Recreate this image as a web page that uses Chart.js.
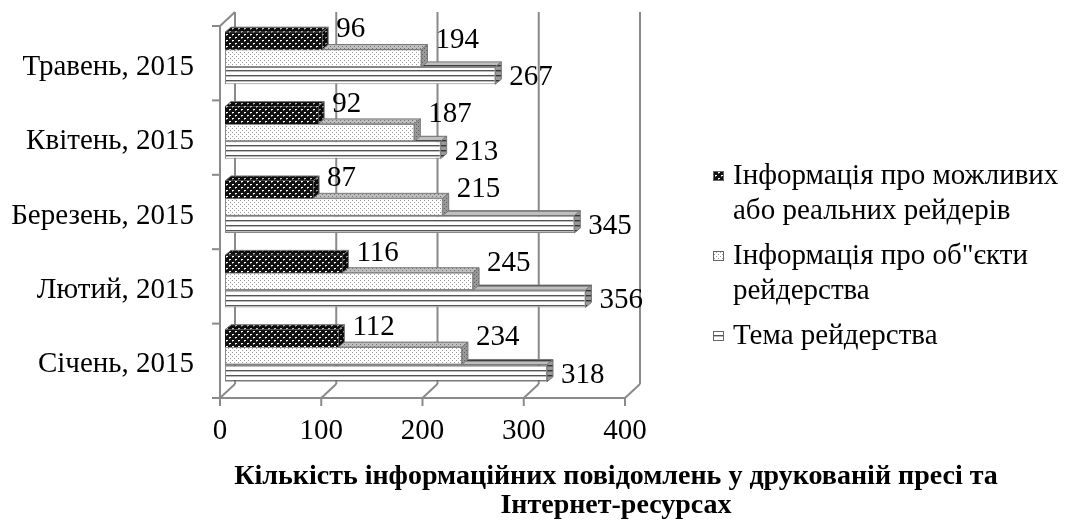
<!DOCTYPE html>
<html><head><meta charset="utf-8">
<script src="https://cdn.jsdelivr.net/npm/chart.js@4.4.1/dist/chart.umd.min.js"></script>
<style>html,body{margin:0;padding:0;background:#fff;}#wrap{width:1067px;height:524px;position:relative;}</style>
</head><body><div id="wrap"><canvas id="c" width="1067" height="524" style="width:1067px;height:524px"></canvas></div>
<script>
const categories = ['Травень, 2015', 'Квітень, 2015', 'Березень, 2015', 'Лютий, 2015', 'Січень, 2015'];
const seriesNames = [['Інформація про можливих', 'або реальних рейдерів'], ['Інформація про об"єкти', 'рейдерства'], ['Тема рейдерства']];
const raidersInfo = [96, 92, 87, 116, 112];
const objectsInfo = [194, 187, 215, 245, 234];
const raidingTopic = [267, 213, 345, 356, 318];
const xTicks = [0, 100, 200, 300, 400];
const titleLines = ['Кількість інформаційних повідомлень у друкованій пресі та', 'Інтернет-ресурсах'];

const FONT = '"Liberation Serif", "Times New Roman", serif';
const FS = 29;
const DX = 6, DY = 5;          // bar depth
const FRONT = [-5, 5], BACK = [10, -9];

function makePattern(kind) {
  const c = document.createElement('canvas');
  const g = c.getContext('2d');
  if (kind === 'dark') {
    c.width = 6; c.height = 6;
    g.fillStyle = '#111'; g.fillRect(0, 0, 6, 6);
    g.fillStyle = '#fff';
    g.fillRect(1, 1, 2, 1); g.fillRect(4, 4, 2, 1);
    g.fillStyle = '#888';
    g.fillRect(1, 2, 1, 1); g.fillRect(4, 5, 1, 1);
  } else if (kind === 'dots') {
    c.width = 4; c.height = 4;
    g.fillStyle = '#fff'; g.fillRect(0, 0, 4, 4);
    g.fillStyle = '#9a9a9a';
    g.fillRect(0, 0, 1, 1); g.fillRect(2, 2, 1, 1);
  } else {
    c.width = 4; c.height = 5;
    g.fillStyle = '#fff'; g.fillRect(0, 0, 4, 5);
    g.fillStyle = '#555'; g.fillRect(0, 0, 4, 1);
    g.fillStyle = '#bbb'; g.fillRect(0, 1, 4, 1);
  }
  return g.createPattern(c, 'repeat');
}

const ctx0 = document.getElementById('c').getContext('2d');
const pats = [makePattern('dark'), makePattern('dots'), makePattern('lines')];

const framePlugin = {
  id: 'frame3d',
  beforeDatasetsDraw(chart) {
    const { ctx, chartArea: a, scales: { x } } = chart;
    ctx.save();
    ctx.strokeStyle = '#8a8a8a';
    ctx.lineWidth = 2;
    const top = a.top, bot = a.bottom;
    xTicks.forEach(v => {
      const px = x.getPixelForValue(v);
      ctx.beginPath();
      ctx.moveTo(px + BACK[0], top + BACK[1]);
      ctx.lineTo(px + BACK[0], bot + BACK[1]);
      ctx.stroke();
      ctx.beginPath();
      ctx.moveTo(px + FRONT[0], bot + FRONT[1]);
      ctx.lineTo(px + BACK[0], bot + BACK[1]);
      ctx.stroke();
      ctx.beginPath();
      ctx.moveTo(px + FRONT[0], bot + FRONT[1]);
      ctx.lineTo(px + FRONT[0], bot + FRONT[1] + 8);
      ctx.stroke();
    });
    const x0 = x.getPixelForValue(0), x4 = x.getPixelForValue(400);
    ctx.beginPath();
    ctx.moveTo(x0 + FRONT[0] - 8, bot + FRONT[1]);
    ctx.lineTo(x4 + FRONT[0], bot + FRONT[1]);
    ctx.stroke();
    ctx.beginPath();
    ctx.moveTo(x0 + FRONT[0], top + FRONT[1]);
    ctx.lineTo(x0 + FRONT[0], bot + FRONT[1]);
    ctx.stroke();
    ctx.beginPath();
    ctx.moveTo(x0 + FRONT[0], top + FRONT[1]);
    ctx.lineTo(x0 + BACK[0], top + BACK[1]);
    ctx.stroke();
    const n = categories.length;
    for (let i = 0; i <= n; i++) {
      const yy = top + (bot - top) * i / n + FRONT[1];
      ctx.beginPath();
      ctx.moveTo(x0 + FRONT[0] - 8, yy);
      ctx.lineTo(x0 + FRONT[0], yy);
      ctx.stroke();
    }
    ctx.restore();
  },
  beforeDatasetDraw(chart, args) {
    const { ctx } = chart;
    const pat = pats[args.index];
    ctx.save();
    args.meta.data.forEach(bar => {
      const h = bar.height, t = bar.y - h / 2, b = bar.y + h / 2;
      const x1 = bar.x, x0 = bar.base;
      ctx.beginPath();
      ctx.moveTo(x0, t); ctx.lineTo(x0 + DX, t - DY); ctx.lineTo(x1 + DX, t - DY); ctx.lineTo(x1, t); ctx.closePath();
      ctx.fillStyle = pat; ctx.fill();
      ctx.fillStyle = 'rgba(0,0,0,0.25)'; ctx.fill();
      ctx.strokeStyle = '#777'; ctx.lineWidth = 1; ctx.stroke();
      ctx.beginPath();
      ctx.moveTo(x1, t); ctx.lineTo(x1 + DX, t - DY); ctx.lineTo(x1 + DX, b - DY); ctx.lineTo(x1, b); ctx.closePath();
      ctx.fillStyle = pat; ctx.fill();
      ctx.fillStyle = 'rgba(0,0,0,0.4)'; ctx.fill();
      ctx.stroke();
    });
    ctx.restore();
  },
  afterDatasetsDraw(chart) {
    const { ctx } = chart;
    const yOff = [-11, -18, 2];
    ctx.save();
    ctx.font = FS + 'px ' + FONT;
    ctx.fillStyle = '#000';
    ctx.textAlign = 'left';
    ctx.textBaseline = 'middle';
    chart.data.datasets.forEach((ds, di) => {
      chart.getDatasetMeta(di).data.forEach((bar, i) => {
        ctx.fillText(String(ds.data[i]), bar.x + DX + 8, bar.y + yOff[di]);
      });
    });
    // legend
    const lx = 733, mx = 713;
    let ly = 176;
    seriesNames.forEach((lines, si) => {
      ctx.fillStyle = pats[si];
      ctx.fillRect(mx, ly - 5, 11, 10);
      ctx.strokeStyle = '#666'; ctx.lineWidth = 1;
      ctx.strokeRect(mx + 0.5, ly - 4.5, 10, 9);
      ctx.fillStyle = '#000';
      lines.forEach((ln, li) => ctx.fillText(ln, lx, ly + li * 35));
      ly += lines.length * 35 + 10;
    });
    // axis title
    ctx.font = 'bold 28px ' + FONT;
    ctx.textAlign = 'center';
    titleLines.forEach((ln, i) => ctx.fillText(ln, 616, 477 + i * 29));
    ctx.restore();
  }
};

new Chart(ctx0, {
  type: 'bar',
  data: {
    labels: categories,
    datasets: [
      { label: seriesNames[0].join(' '), data: raidersInfo, backgroundColor: pats[0], borderWidth: 0 },
      { label: seriesNames[1].join(' '), data: objectsInfo, backgroundColor: pats[1], borderColor: '#888', borderWidth: 1, borderSkipped: false },
      { label: seriesNames[2].join(' '), data: raidingTopic, backgroundColor: pats[2], borderColor: '#888', borderWidth: 1, borderSkipped: false }
    ]
  },
  options: {
    indexAxis: 'y',
    responsive: false,
    animation: false,
    devicePixelRatio: 1,
    categoryPercentage: 0.7,
    barPercentage: 1,
    layout: { padding: { left: 0, right: 437, top: 21, bottom: 60 } },
    scales: {
      x: {
        min: 0, max: 400,
        afterBuildTicks: s => { s.ticks = xTicks.map(v => ({ value: v })); },
        grid: { display: false, drawTicks: false },
        border: { display: false },
        ticks: { font: { family: FONT, size: FS }, color: '#000', padding: 21, labelOffset: -5 },
        afterFit: s => { s.height = 71; s.paddingLeft = 0; s.paddingRight = 0; }
      },
      y: {
        grid: { display: false, drawTicks: false },
        border: { display: false },
        ticks: { font: { family: FONT, size: FS }, color: '#000', padding: 31, labelOffset: 9 },
        afterFit: s => { s.width = 225; s.paddingTop = 0; s.paddingBottom = 0; }
      }
    },
    plugins: {
      legend: { display: false },
      tooltip: { enabled: false },
      title: { display: false }
    }
  },
  plugins: [framePlugin]
});
</script></body></html>
